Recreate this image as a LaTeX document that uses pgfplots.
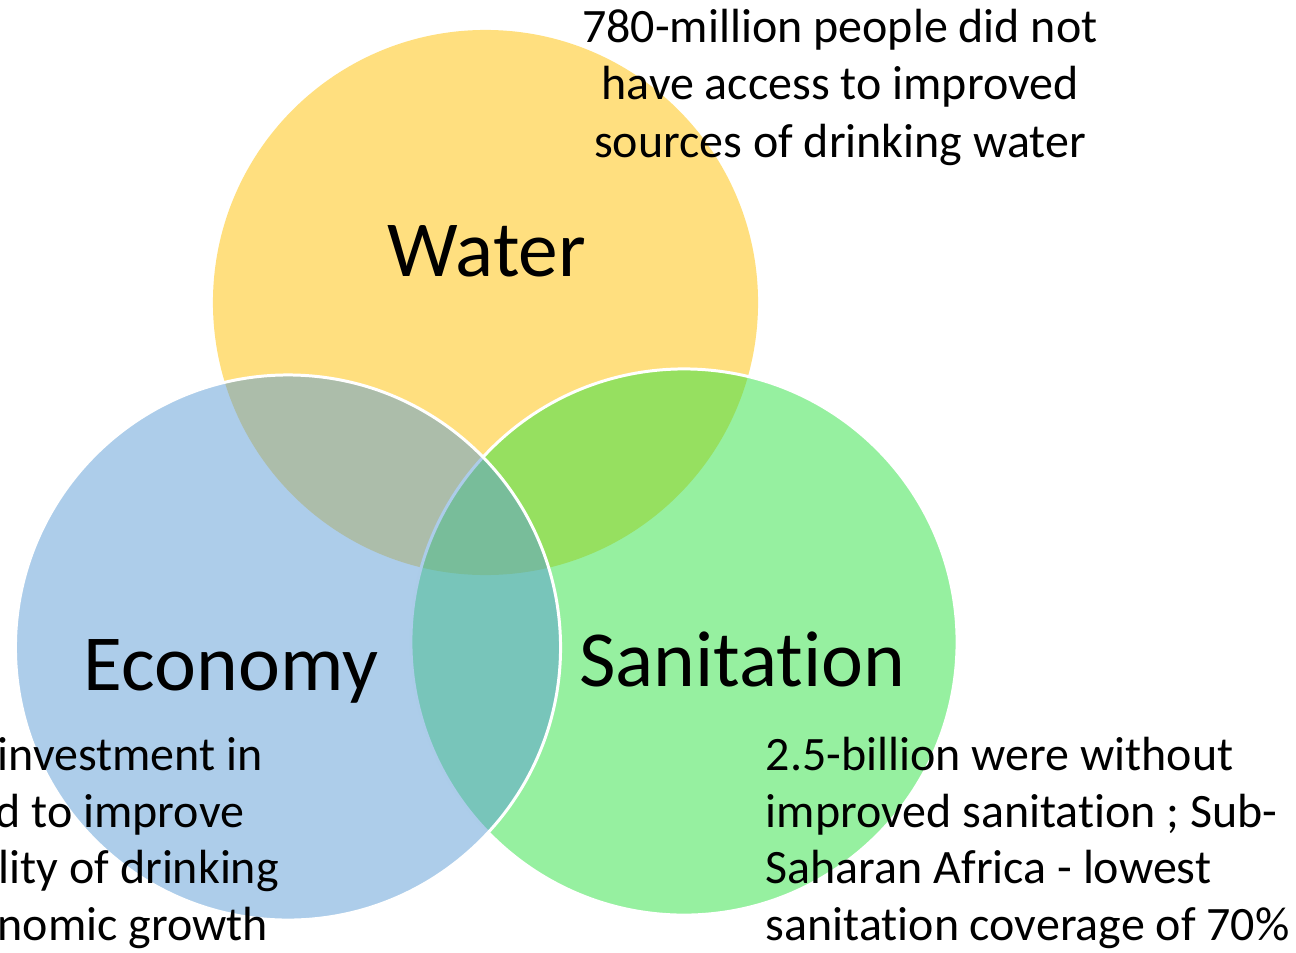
\documentclass[border=0pt]{standalone}
\usepackage{pgfplots}
\pgfplotsset{compat=1.18}
\usepackage{fontspec}
\setmainfont[Ligatures=NoCommon]{Carlito}
\definecolor{waterc}{RGB}{255,192,0}
\definecolor{econc}{RGB}{91,155,213}
\definecolor{sanc}{RGB}{46,225,66}
\newcommand{\bigf}{\fontsize{22.6}{27}\selectfont}
\newcommand{\smallf}{\fontsize{13.65}{16.5}\selectfont}
\newcommand{\alltexts}{%
% titles
\node[anchor=base, font=\bigf] at (axis cs:487,276) {Water};
\node[anchor=base, font=\bigf] at (axis cs:231,690) {Economy};
\node[anchor=base, font=\bigf] at (axis cs:742,686) {Sanitation};
% top text
\node[anchor=base, font=\smallf] at (axis cs:840,43) {780-million people did not};
\node[anchor=base, font=\smallf] at (axis cs:840,100) {have access to improved};
\node[anchor=base, font=\smallf] at (axis cs:840,157) {sources of drinking water};
% right text
\node[anchor=base west, font=\smallf, inner sep=0pt] at (axis cs:765,770) {2.5-billion were without};
\node[anchor=base west, font=\smallf, inner sep=0pt] at (axis cs:765,827) {improved sanitation ; Sub-};
\node[anchor=base west, font=\smallf, inner sep=0pt] at (axis cs:765,883) {Saharan Africa - lowest};
\node[anchor=base west, font=\smallf, inner sep=0pt] at (axis cs:765,940) {sanitation coverage of 70\%};
% left text (cut off at the left edge)
\node[anchor=base west, font=\smallf, inner sep=0pt] at (axis cs:-3,770) {investment in};
\node[anchor=base west, font=\smallf, inner sep=0pt] at (axis cs:-5,827) {d to improve};
\node[anchor=base west, font=\smallf, inner sep=0pt] at (axis cs:-2,883) {lity of drinking};
\node[anchor=base west, font=\smallf, inner sep=0pt] at (axis cs:-3,940) {nomic growth};
}
\begin{document}
\begin{tikzpicture}
\useasboundingbox (0,0) rectangle (12.96cm,9.52cm);
\clip (0,0) rectangle (12.96cm,9.52cm);
\begin{axis}[at={(0,0)}, anchor=south west, scale only axis,
  width=12.96cm, height=9.52cm,
  xmin=0, xmax=1296, ymin=0, ymax=952, y dir=reverse,
  hide axis, clip=false,
  after end axis/.code={\alltexts}]
% circle centres (pixel units); radius via mark size (1 unit = 0.28453pt)
\addplot[only marks, mark=*, mark size=77.55pt,
  mark options={fill=waterc, fill opacity=0.5, draw=waterc, draw opacity=0}]
  coordinates {(485.5,302.5)};
\addplot[only marks, mark=*, mark size=77.7pt,
  mark options={fill=sanc, fill opacity=0.5, draw=white, draw opacity=1, line width=0.85pt}]
  coordinates {(684,642)};
\addplot[only marks, mark=*, mark size=77.55pt,
  mark options={fill=econc, fill opacity=0.5, draw=white, draw opacity=1, line width=0.85pt}]
  coordinates {(288,647.5)};
\end{axis}
\end{tikzpicture}
\end{document}
